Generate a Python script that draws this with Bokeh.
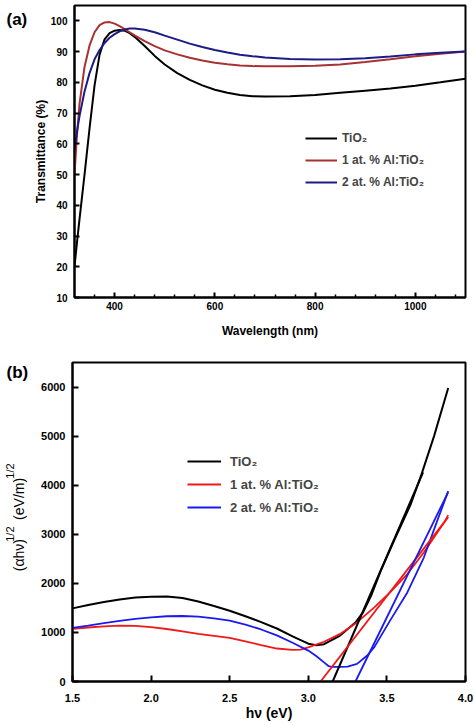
import math
from bokeh.plotting import figure
from bokeh.layouts import column, row
from bokeh.models import FixedTicker, PrintfTickFormatter, Range1d
from bokeh.core.properties import value
from bokeh.embed import file_html
from bokeh.resources import INLINE

FONT = "Liberation Sans"

# ---------------- Panel (a) data: transmittance ----------------
wavelength = [320, 325, 330, 340, 350, 360, 370, 380, 390, 400, 410, 420, 430, 440, 460, 480,
              500, 525, 550, 575, 600, 625, 650, 675, 700, 750, 800, 850, 900, 950, 1000, 1050, 1100]
t_tio2 = [20, 28, 35.5, 50, 65, 79, 89, 94, 96, 96.8, 97, 96.8, 96, 94.8, 91.8, 88.6,
          85.8, 83.0, 80.8, 79.0, 77.6, 76.6, 75.9, 75.5, 75.4, 75.5, 75.9, 76.6, 77.3, 78.0,
          78.9, 80.0, 81.2]
t_al1 = [50, 63, 73, 85, 92, 96.3, 98.6, 99.5, 99.6, 99.1, 98.3, 97.3, 96.3, 95.3, 93.4, 91.8,
         90.4, 89.1, 88.0, 87.1, 86.4, 85.9, 85.5, 85.3, 85.2, 85.2, 85.4, 85.8, 86.6, 87.5,
         88.5, 89.3, 90.0]
t_al2 = [58, 64, 69, 77, 83, 87.5, 90.5, 92.8, 94.5, 95.7, 96.6, 97.2, 97.5, 97.5, 97.1, 96.3,
         95.2, 93.9, 92.6, 91.5, 90.5, 89.7, 89.0, 88.5, 88.1, 87.6, 87.4, 87.5, 87.8, 88.4,
         89.1, 89.6, 90.0]
a_xticks = [400, 600, 800, 1000]
a_xminor = [360, 440, 480, 520, 560, 640, 680, 720, 760, 840, 880, 920, 960, 1040, 1080]
a_yticks = [10, 20, 30, 40, 50, 60, 70, 80, 90, 100]
a_labels = ["TiO₂", "1 at. % Al:TiO₂", "2 at. % Al:TiO₂"]

# ---------------- Panel (b) data: Tauc plot ----------------
hv_tio2 = [1.5, 1.6, 1.7, 1.8, 1.9, 2.0, 2.1, 2.2, 2.3, 2.4, 2.5, 2.6, 2.7, 2.8, 2.9, 3.0,
           3.05, 3.1, 3.2, 3.3, 3.35, 3.4, 3.46, 3.55, 3.65, 3.72, 3.8, 3.89]
y_tio2 = [1490, 1560, 1620, 1670, 1710, 1728, 1730, 1700, 1630, 1540, 1443, 1330, 1210, 1080,
          920, 770, 740, 760, 930, 1200, 1420, 1750, 2250, 2900, 3600, 4220, 5000, 5980]
hv_al1 = [1.5, 1.6, 1.7, 1.8, 1.9, 2.0, 2.1, 2.2, 2.3, 2.4, 2.5, 2.6, 2.7, 2.8, 2.9, 2.95,
          3.0, 3.1, 3.2, 3.3, 3.42, 3.52, 3.63, 3.735, 3.87, 3.89]
y_al1 = [1071, 1100, 1125, 1138, 1135, 1110, 1070, 1020, 970, 930, 888, 820, 740, 672, 645, 650,
         697, 810, 965, 1180, 1510, 1815, 2189, 2628, 3272, 3390]
hv_al2 = [1.5, 1.6, 1.7, 1.8, 1.9, 2.0, 2.1, 2.2, 2.3, 2.4, 2.5, 2.6, 2.7, 2.8, 2.9, 3.0,
          3.05, 3.1, 3.13, 3.15, 3.2, 3.25, 3.31, 3.375, 3.42, 3.52, 3.63, 3.735, 3.82, 3.89]
y_al2 = [1091, 1140, 1190, 1235, 1275, 1307, 1330, 1335, 1320, 1285, 1240, 1160, 1060, 940, 790,
         630, 520, 390, 311, 300, 300, 305, 360, 530, 700, 1240, 1815, 2526, 3272, 3880]
fit_tio2_x = [3.155, 3.73]
fit_tio2_y = [0, 4260]
fit_al1_x = [3.078, 3.89]
fit_al1_y = [0, 3350]
fit_al2_x = [3.30, 3.89]
fit_al2_y = [0, 3860]
b_xticks = [1.5, 2.0, 2.5, 3.0, 3.5, 4.0]
b_yticks = [0, 1000, 2000, 3000, 4000, 5000, 6000]
b_labels = ["TiO₂", "1 at. % Al:TiO₂", "2 at. % Al:TiO₂"]


def style(p, tick_size, in_len):
    p.outline_line_color = "black"
    p.outline_line_width = 2
    p.xgrid.visible = False
    p.ygrid.visible = False
    for ax in (p.xaxis[0], p.yaxis[0]):
        ax.axis_line_width = 2
        ax.axis_line_color = "black"
        ax.major_tick_in = in_len
        ax.major_tick_out = 0
        ax.major_tick_line_width = 2
        ax.minor_tick_in = 3
        ax.minor_tick_out = 0
        ax.minor_tick_line_width = 1.5
        ax.major_label_text_font = FONT
        ax.major_label_text_font_style = "bold"
        ax.major_label_text_font_size = f"{tick_size}px"
        ax.major_label_text_color = "black"
        ax.axis_label_text_font = FONT
        ax.axis_label_text_font_style = "bold"
        ax.axis_label_text_color = "black"


def style_legend(lg, loc, spacing, gw, standoff, fsize):
    lg.location = loc
    lg.padding = 0
    lg.margin = 0
    lg.spacing = spacing
    lg.glyph_width = gw
    lg.glyph_height = 20
    lg.label_height = 20
    lg.label_standoff = standoff
    lg.border_line_alpha = 0
    lg.background_fill_alpha = 0
    lg.label_text_font = FONT
    lg.label_text_font_style = "bold"
    lg.label_text_font_size = fsize


def strip(width, height):
    s = figure(width=width, height=height, output_backend="svg", toolbar_location=None,
               x_range=Range1d(0, width), y_range=Range1d(0, height),
               x_axis_location=None, y_axis_location=None,
               min_border=0, min_border_left=0, min_border_right=0,
               min_border_top=0, min_border_bottom=0)
    s.outline_line_color = None
    s.xgrid.visible = False
    s.ygrid.visible = False
    return s


H_A = 345
H_B = 379

# ---------------- Figure (a) ----------------
pa = figure(width=444, height=H_A, output_backend="svg", toolbar_location=None,
            x_range=Range1d(320, 1100), y_range=Range1d(10, 105),
            min_border_left=42, min_border_right=9, min_border_top=5, min_border_bottom=48)
style(pa, 10, 5)
pa.xaxis[0].ticker = FixedTicker(ticks=a_xticks, minor_ticks=a_xminor)
pa.yaxis[0].ticker = FixedTicker(ticks=a_yticks, minor_ticks=[])
pa.xaxis[0].major_label_standoff = 4
pa.yaxis[0].major_label_standoff = 7
pa.xaxis[0].axis_label = "Wavelength (nm)"
pa.yaxis[0].axis_label = "Transmittance (%)"
pa.xaxis[0].axis_label_text_font_size = "12px"
pa.yaxis[0].axis_label_text_font_size = "12px"
pa.xaxis[0].axis_label_standoff = 11
pa.yaxis[0].axis_label_standoff = 0

pa.line(wavelength, t_tio2, line_color="black", line_width=2, legend_label=a_labels[0])
pa.line(wavelength, t_al1, line_color="#a83232", line_width=2, legend_label=a_labels[1])
pa.line(wavelength, t_al2, line_color="#1c1c86", line_width=2, legend_label=a_labels[2])
style_legend(pa.legend[0], (231, 105), 2, 32, 5, "12px")

sa = strip(30, H_A)
sa.text(x=[6], y=[H_A - 17], text=["(a)"], text_font=value(FONT), text_font_style="bold",
        text_font_size=value("17px"), text_baseline="middle", text_align="left",
        text_color="black")

# ---------------- Figure (b) ----------------
pb = figure(width=438, height=H_B, output_backend="svg", toolbar_location=None,
            x_range=Range1d(1.5, 4.0), y_range=Range1d(0, 6500),
            min_border_left=36, min_border_right=9, min_border_top=17, min_border_bottom=43)
style(pb, 11, 6)
pb.xaxis[0].ticker = FixedTicker(ticks=b_xticks, minor_ticks=[])
pb.yaxis[0].ticker = FixedTicker(ticks=b_yticks, minor_ticks=[])
pb.xaxis[0].formatter = PrintfTickFormatter(format="%.1f")
pb.xaxis[0].major_label_standoff = 12
pb.yaxis[0].major_label_standoff = 7
pb.xaxis[0].axis_label = "hν (eV)"
pb.xaxis[0].axis_label_text_font_size = "14px"
pb.xaxis[0].axis_label_standoff = 0

pb.line(hv_tio2, y_tio2, line_color="black", line_width=2, legend_label=b_labels[0])
pb.line(hv_al1, y_al1, line_color="#f01818", line_width=1.8, legend_label=b_labels[1])
pb.line(hv_al2, y_al2, line_color="#1a1aee", line_width=1.8, legend_label=b_labels[2])
pb.line(fit_tio2_x, fit_tio2_y, line_color="black", line_width=2)
pb.line(fit_al1_x, fit_al1_y, line_color="#f01818", line_width=1.8)
pb.line(fit_al2_x, fit_al2_y, line_color="#1a1aee", line_width=1.8)
style_legend(pb.legend[0], (115, 164), 3, 34, 9, "13px")

sb = strip(36, H_B)
sb.text(x=[6], y=[H_B - 12], text=["(b)"], text_font=value(FONT), text_font_style="bold",
        text_font_size=value("17px"), text_baseline="middle", text_align="left",
        text_color="black")
# rotated y-axis label of panel (b), with superscripts
ylab_text = ["(αhν)", "1/2", "(eV/m)", "1/2"]
ylab_x = [18, 9, 18, 9]
ylab_y = [131, 166, 192, 241]
ylab_size = ["14px", "11px", "14px", "11px"]
for t, xx, yy, fs in zip(ylab_text, ylab_x, ylab_y, ylab_size):
    sb.text(x=[xx], y=[yy], text=[t], angle=math.pi / 2, text_font=value(FONT),
            text_font_size=value(fs), text_baseline="middle", text_align="left",
            text_color="black")

layout = column(row(sa, pa), row(sb, pb))
open("out.html", "w").write(file_html(layout, INLINE))
